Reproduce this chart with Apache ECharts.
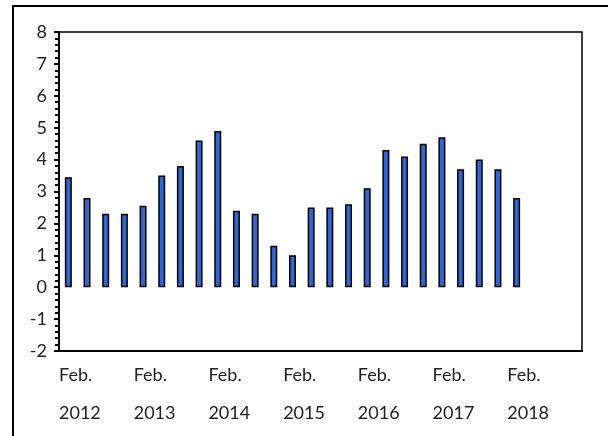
<!DOCTYPE html>
<html>
<head>
<meta charset="utf-8">
<script src="https://cdn.jsdelivr.net/npm/echarts@6/dist/echarts.min.js"></script>
<style>
  html, body { margin: 0; padding: 0; background: #fff; }
  #chart { width: 608px; height: 436px; }
</style>
</head>
<body>
<div id="chart"></div>
<script>
// quarterly periods, Feb. 2012 .. Nov. 2018 (last three have no value yet)
var years = ["2012", "2013", "2014", "2015", "2016", "2017", "2018"];
var months = ["Feb.", "May", "Aug.", "Nov."];
var periods = [];
years.forEach(function (y) {
  months.forEach(function (m) {
    periods.push(m + " " + y);
  });
});

// bar values
var values = [3.45, 2.8, 2.3, 2.3, 2.55, 3.5, 3.8, 4.6, 4.9, 2.4, 2.3, 1.3, 1.0,
  2.5, 2.5, 2.6, 3.1, 4.3, 4.1, 4.5, 4.7, 3.7, 4.0, 3.7, 2.8];

// x tick labels, one every 4 quarters
var tickMonth = ["Feb.", "Feb.", "Feb.", "Feb.", "Feb.", "Feb.", "Feb."];
var tickYear = ["2012", "2013", "2014", "2015", "2016", "2017", "2018"];

var yTicks = { min: -2, max: 8, step: 1 };

var chart = echarts.init(document.getElementById("chart"));
var font = "Lato";

var option = {
  animation: false,
  grid: {
    left: 59, top: 32, right: 26, bottom: 85,
    show: true,
    borderColor: "#000",
    borderWidth: 1.5
  },
  graphic: [
    {
      type: "rect",
      shape: { x: 13, y: 6, width: 700, height: 500 },
      style: { fill: "none", stroke: "#000", lineWidth: 2 },
      silent: true
    }
  ],
  xAxis: [
    {
      type: "category",
      data: periods,
      show: false
    },
    {
      // label axis: ticks sit on the quarter boundaries
      type: "value",
      position: "bottom",
      min: 0,
      max: periods.length,
      interval: 4,
      axisLine: { show: true, lineStyle: { color: "#000", width: 2 } },
      axisTick: { show: false },
      splitLine: { show: false },
      axisLabel: {
        margin: 5,
        align: "left",
        showMaxLabel: false,
        fontFamily: font,
        fontSize: 18,
        color: "#222",
        lineHeight: 38,
        formatter: function (v) {
          var i = Math.round(v / 4);
          if (i >= tickYear.length) return "";
          return tickMonth[i] + "\n" + tickYear[i];
        }
      }
    }
  ],
  yAxis: {
    type: "value",
    min: yTicks.min,
    max: yTicks.max,
    interval: yTicks.step,
    axisLine: { show: true, lineStyle: { color: "#000", width: 2 } },
    axisTick: { show: true, length: 5, lineStyle: { color: "#000", width: 2 } },
    minorTick: { show: true, splitNumber: 5, length: 4, lineStyle: { color: "#000", width: 2 } },
    splitLine: { show: false },
    axisLabel: {
      margin: 12,
      fontFamily: font,
      fontSize: 18,
      color: "#222"
    }
  },
  series: [
    {
      type: "bar",
      xAxisIndex: 0,
      data: values,
      barWidth: 7,
      itemStyle: {
        color: "#3366cc",
        borderColor: "#000",
        borderWidth: 1.5
      }
    }
  ]
};

chart.setOption(option);
</script>
</body>
</html>
